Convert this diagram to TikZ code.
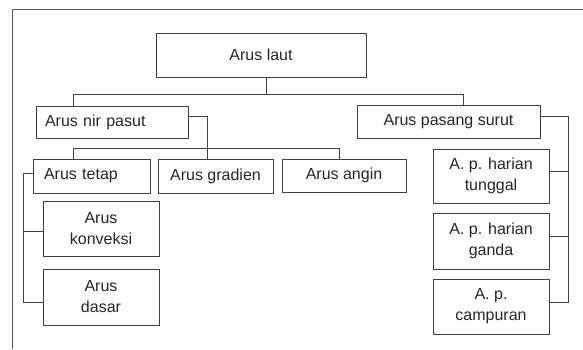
\documentclass[tikz,border=0pt]{standalone}
\usepackage{fontspec}
\setmainfont{Liberation Sans}
\usepackage{tikz}
\usepackage{xcolor}

\begin{document}
\begin{tikzpicture}[x=1pt,y=-1pt]
      \useasboundingbox(0,0) rectangle (583,349);
      \tikzset{B/.style = {shape=rectangle, draw=black!75, line width=0.9pt, text=black!85, inner sep=0pt, align=center, font=\fontsize{16}{21}\selectfont}}
      \tikzset{BL/.style = {B, align=left, inner xsep=9pt}}
      \tikzset{E/.style = {draw=black!75, line width=0.9pt}}
      \draw[E,black!65](12,349) -- (12,9) -- (583,9);
      \node[B,minimum width=210,minimum height=44](a0) at (261,55) {Arus laut};
      \node[BL,text width=134,minimum height=32](b0) at (112,122) {Arus nir pasut};
      \node[B,minimum width=183,minimum height=33](b1) at (448.5,121.5) {Arus pasang surut};
      \node[BL,inner xsep=11pt,text width=95,minimum height=34](c0) at (91.5,176) {Arus tetap};
      \node[B,minimum width=115,minimum height=34](c1) at (215.5,176) {Arus gradien};
      \node[B,minimum width=124,minimum height=33](c2) at (344,175.5) {Arus angin};
      \node[B,minimum width=116,minimum height=55](d0) at (101,228.5) {Arus\\konveksi};
      \node[B,minimum width=116,minimum height=56](d1) at (101,297) {Arus\\dasar};
      \node[B,minimum width=116,minimum height=54](e0) at (491,176) {A. p. harian\\tunggal};
      \node[B,minimum width=116,minimum height=56](e1) at (491,241) {A. p. harian\\ganda};
      \node[B,minimum width=116,minimum height=55](e2) at (491,306.5) {A. p.\\campuran};
      \draw[E]([xshift=5pt]a0.south) -- ++(0,18);
      \draw[E]([xshift=-39pt]b0.north) -- ++(0,-11) -| ([xshift=14.5pt]b1.north);
      \draw[E]([yshift=6pt]b0.east) -| ([xshift=-8.5pt]c1.north);
      \draw[E]([xshift=-18.5pt]c0.north) -- ++(0,-10) -| ([xshift=-5pt]c2.north);
      \draw[E]([yshift=3pt]c0.west) -- ++(-9,0) |- ([yshift=-5pt]d1.west);
      \draw[E]([yshift=-2.5pt]d0.west) -- ++(-19,0);
      \draw[E]([yshift=5.5pt]b1.east) -- ++(28,0) |- ([yshift=4.5pt]e2.east);
      \draw[E]([yshift=5pt]e0.east) -- ++(19,0);
      \draw[E]([yshift=5pt]e1.east) -- ++(19,0);
    \end{tikzpicture}
\end{document}
